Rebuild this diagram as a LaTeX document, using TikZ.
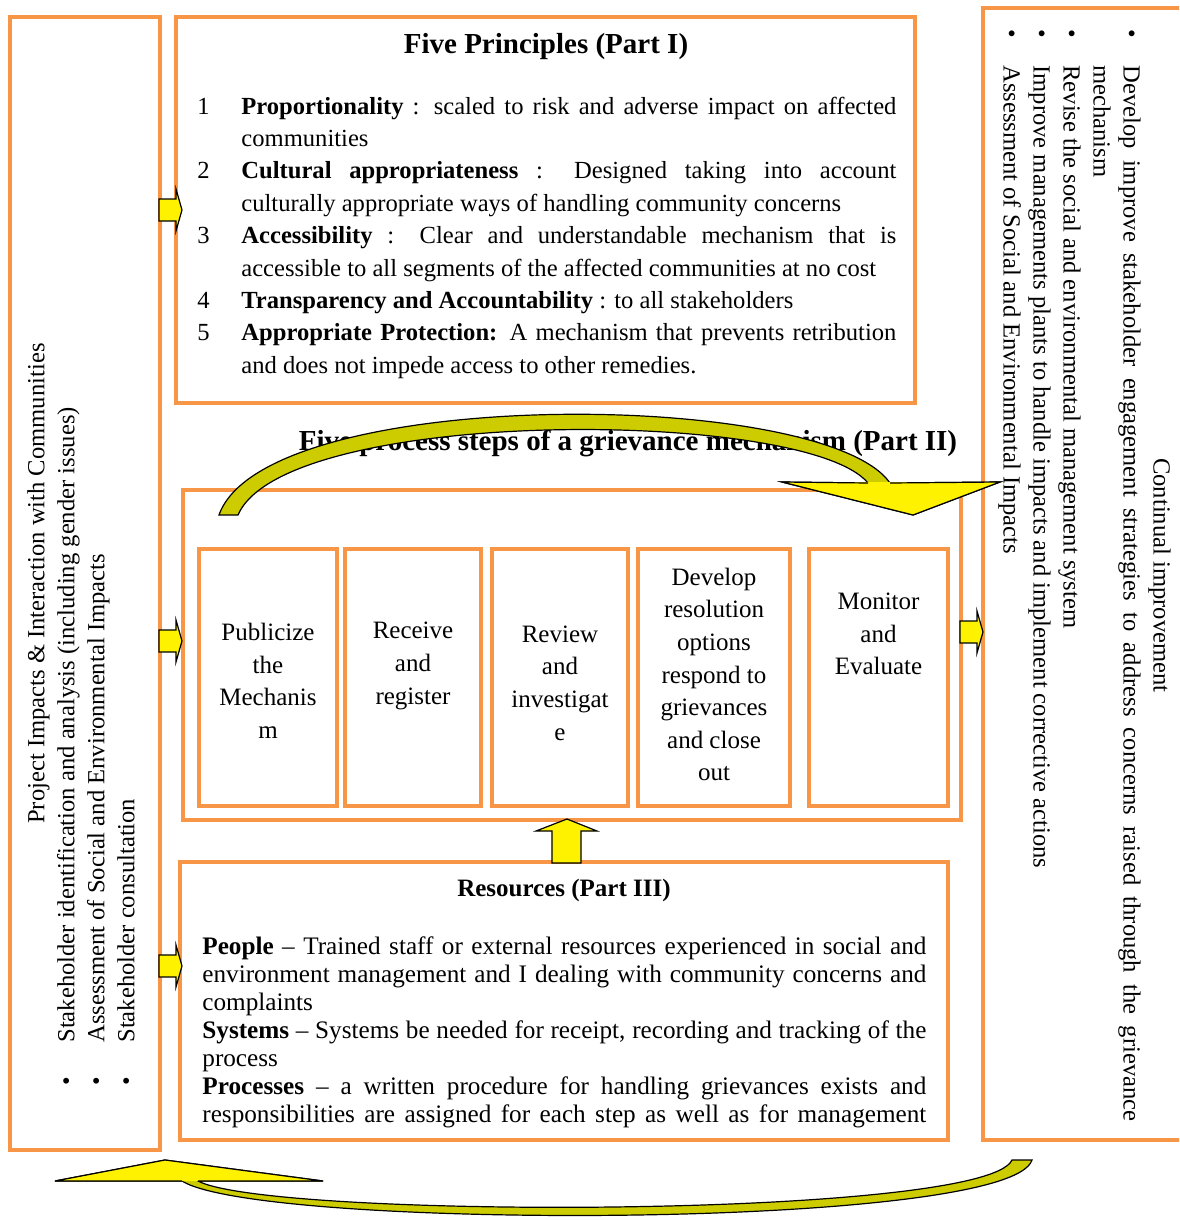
\documentclass[tikz,border=0pt]{standalone}
\usepackage{fontspec}
\setmainfont{Liberation Serif}
\usepackage{array}
\usetikzlibrary{positioning}
\definecolor{boxorange}{RGB}{247,150,70}
\definecolor{tailyellow}{RGB}{204,204,0}
\tikzstyle{panel}=[draw=boxorange,line width=2pt,inner sep=0pt]
\tikzstyle{stepbox}=[panel,minimum height=128.5pt]
\tikzstyle{steptext}=[align=center,inner sep=0pt,font=\fontsize{12.5}{16.3}\selectfont]
\tikzstyle{blockarrow}=[draw=black,fill=yellow,line width=0.6pt]
\tikzstyle{bodytext}=[inner sep=0pt,font=\fontsize{12.3}{15}\selectfont]
\tikzstyle{curved}=[draw=black,fill=tailyellow,line width=0.6pt]

\begin{document}
\begin{tikzpicture}[x=0.5pt,y=-0.5pt]
\useasboundingbox (0,0) rectangle (1179,1220);
\clip (0,0) rectangle (1179,1220);

% First we draw the panels
\node[panel,minimum width=75pt,minimum height=566.5pt] (community) at (85,583.5) {};
\node[panel,minimum width=369.5pt,minimum height=193pt] (principles) at (545.5,210) {};
\node[panel,minimum width=389pt,minimum height=165pt] (process) at (572,655) {};
\node[panel,minimum width=384pt,minimum height=139pt] (resources) at (564,1001) {};
\node[panel,minimum width=108.5pt,minimum height=566pt] (improve) at (1091.5,574) {};

% Then the five steps inside the process panel
\foreach \xc/\bw/\ty/\name/\txt in {268/69/681/publicize/{Publicize\\the\\Mechanis\\m},413/68/666/receive/{Receive\\and\\register},560/68/683/review/{Review\\and\\investigat\\e},714/76/674.5/develop/{Develop\\resolution\\options\\respond to\\grievances\\and close\\out},878.5/69.5/634/monitor/{Monitor\\and\\Evaluate}}
{
\node[stepbox,minimum width=\bw pt] (\name) at (\xc,677.5) {};
\node[steptext] (\name-text) at (\xc,\ty) {\txt};
}

% Part I
\node[font=\fontsize{14.5}{17}\selectfont\bfseries] (principles-title) at (546,47) {Five Principles (Part I)};
\node[bodytext,anchor=north west,font=\fontsize{12.3}{16.2}\selectfont] (principles-list) at (197,91)
{\begin{tabular}{@{}p{22pt}@{}p{327.5pt}@{}}
1 & \textbf{Proportionality} : scaled to risk and adverse impact on affected\linebreak communities\\
2 & \textbf{Cultural appropriateness} : Designed taking into account\linebreak culturally appropriate ways of handling community concerns\\
3 & \textbf{Accessibility} : Clear and understandable mechanism that is\linebreak accessible to all segments of the affected communities at no cost\\
4 & \textbf{Transparency and Accountability} : to all stakeholders\\
5 & \textbf{Appropriate Protection:} A mechanism that prevents retribution\linebreak and does not impede access to other remedies.
\end{tabular}};

% Part II
\node[font=\fontsize{14.5}{17}\selectfont\bfseries] (process-title) at (628,443) {Five process steps of a grievance mechanism (Part II)};

% Part III
\node[font=\fontsize{12.5}{15}\selectfont\bfseries] (resources-title) at (564,890) {Resources (Part III)};
\node[bodytext,anchor=north west] (resources-text) at (202,934)
{\begin{minipage}{362pt}\fontsize{12.6}{14}\selectfont\setlength{\parindent}{0pt}%
\strut\textbf{People} – Trained staff or external resources experienced in social and\linebreak environment management and I dealing with community concerns and\linebreak complaints\par
\textbf{Systems} – Systems be needed for receipt, recording and tracking of the\linebreak process\par
\textbf{Processes} – a written procedure for handling grievances exists and\linebreak
\makebox[\linewidth][s]{responsibilities are assigned for each step as well as for management}
\end{minipage}};

% Side panels, written sideways
\node[bodytext,rotate=90,anchor=north west] (community-text) at (23,1086)
{\begin{tabular}{@{}p{21.5pt}@{}p{480.5pt}@{}}
\multicolumn{2}{@{}c@{}}{Project Impacts \& Interaction with Communities}\\
\textbullet & Stakeholder identification and analysis (including gender issues)\\
\textbullet & Assessment of Social and Environmental Impacts\\
\textbullet & Stakeholder consultation
\end{tabular}};
\node[bodytext,rotate=-90,anchor=north west] (improve-text) at (1175,29)
{\begin{tabular}{@{}p{18pt}@{}p{528pt}@{}}
\multicolumn{2}{@{}c@{}}{Continual improvement}\\
\textbullet & Develop improve stakeholder engagement strategies to address concerns raised through the grievance\linebreak mechanism\\
\textbullet & Revise the social and environmental management system\\
\textbullet & Improve managements plants to handle impacts and implement corrective actions\\
\textbullet & Assessment of Social and Environmental Impacts
\end{tabular}};

% Block arrows between the panels
\foreach \xa/\yc in {159/210,159/641,159/966,960/632}
\draw[blockarrow] (\xa,\yc-11) -- (\xa+17,\yc-11) -- (\xa+17,\yc-21) -- (\xa+23,\yc) -- (\xa+17,\yc+21) -- (\xa+17,\yc+11) -- (\xa,\yc+11) -- cycle;
\draw[blockarrow] (552,863) -- (552,831) -- (536,831) -- (567,819) -- (597,831) -- (581,831) -- (581,863) -- cycle;

% Curved arrows over the steps and under the panels
\path[curved] (219,515) .. controls (265,385) and (824,388) .. (890,483) -- (1000,482) -- (913,515) -- (782,482) -- (868,483) .. controls (806,408) and (285,406) .. (238,515) -- cycle;
\fill[yellow] (782,482) -- (1000,482) -- (913,515) -- cycle;
\draw[line width=0.6pt] (868,483) -- (782,482) -- (913,515) -- (1000,482) -- (890,483);

\path[curved] (182,1181) .. controls (260,1230) and (1010,1230) .. (1032,1160) -- (1012,1160) .. controls (985,1219) and (270,1219) .. (198,1181) -- (323,1181) -- (165,1160) -- (55,1181) -- cycle;
\fill[yellow] (55,1181) -- (165,1160) -- (323,1181) -- cycle;
\draw[line width=0.6pt] (198,1181) -- (323,1181) -- (165,1160) -- (55,1181) -- (182,1181);

\end{tikzpicture}
\end{document}
